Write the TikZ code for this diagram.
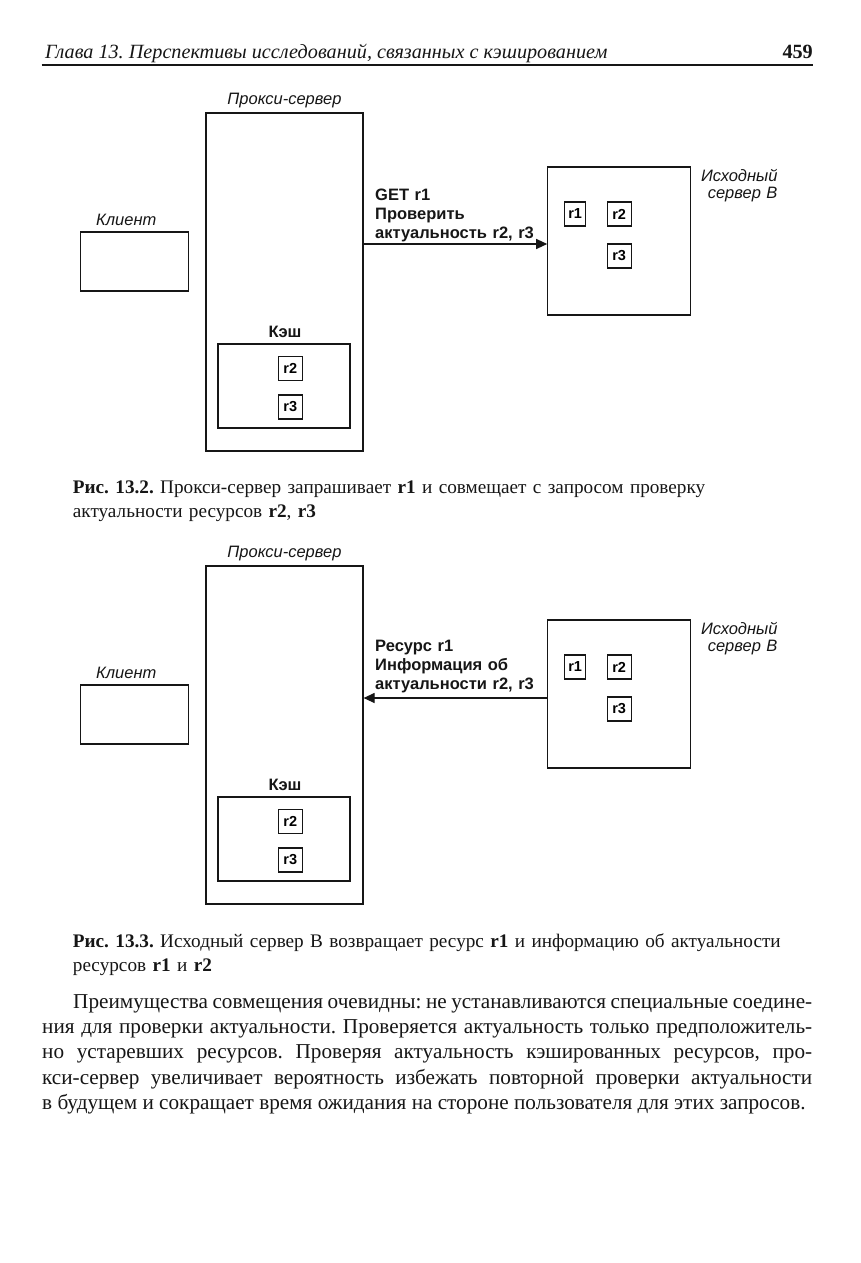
\documentclass[tikz,border=0pt]{standalone}
\usepackage{fontspec}
\setmainfont{Liberation Serif}
\setsansfont{Liberation Sans}
\usetikzlibrary{arrows.meta,positioning}
\definecolor{ink}{HTML}{161616}
\definecolor{paper}{HTML}{FFFFFF}
\frenchspacing
\tikzset{
  box/.style={draw=ink,line width=1.2pt,inner sep=0pt},
  resbox/.style={draw=ink,line width=1.1pt,minimum width=24pt,minimum height=24pt,
                 inner sep=0pt,font=\sffamily\bfseries\fontsize{14.5}{16}\selectfont},
  boxlabel/.style={inner sep=0pt,text=ink,font=\sffamily\itshape\fontsize{16.5}{16.5}\selectfont},
  cachelabel/.style={inner sep=0pt,text=ink,font=\sffamily\bfseries\fontsize{16.5}{17}\selectfont},
  msglabel/.style={inner sep=0pt,text=ink,text width=180pt,align=left,
                   font=\sffamily\bfseries\fontsize{16.5}{19}\selectfont},
  caption/.style={inner sep=0pt,text=ink,text width=740pt,align=left,
                  font=\fontsize{19.2}{24}\selectfont},
  bodytext/.style={inner sep=0pt,text=ink,text width=770pt,align=justify,
                   font=\fontsize{21.2}{25.2}\selectfont},
  flowarr/.style={-{Triangle[length=11pt,width=10pt]},line width=1.2pt,draw=ink}
}
\begin{document}
\begin{tikzpicture}[x=1pt,y=-1pt]
  \useasboundingbox[fill=paper] (0,0) rectangle (861,1263);

  % page header
  \node[inner sep=0pt,anchor=base west,text=ink,font=\itshape\fontsize{20.2}{24}\selectfont] (head) at (45,58.5)
    {Глава 13. Перспективы исследований, связанных с кэшированием};
  \node[inner sep=0pt,anchor=base east,text=ink,font=\bfseries\fontsize{20.2}{24}\selectfont] (pagenum) at (813,58.5) {459};
  \draw[ink,line width=1.4pt] (41.7,65) -- (813,65);

  % figure 13.2
  \node[box,minimum width=157pt,minimum height=338pt] (proxy1) at (284.5,282) {};
  \node[boxlabel,anchor=base] (proxy1lbl) at (284.5,104.7) {Прокси-сервер};
  \node[box,minimum width=108pt,minimum height=59pt] (client1) at (134.7,261.5) {};
  \node[boxlabel,anchor=base west] (client1lbl) at (96,225.5) {Клиент};
  \node[box,minimum width=132pt,minimum height=84pt] (cache1) at (284,386) {};
  \node[cachelabel,anchor=base] (cache1lbl) at (285,337) {Кэш};
  \node[resbox] (c1r2) at (290.3,368.5) {r2};
  \node[resbox] (c1r3) at (290.3,407) {r3};
  \node[box,minimum width=143pt,minimum height=148pt] (origin1) at (619.3,241) {};
  \node[boxlabel,text width=90pt,align=right,anchor=base east] (origin1lbl) at (777.7,181.5) {Исходный\\сервер B};
  \node[resbox,minimum width=21pt] (o1r1) at (575.2,214) {r1};
  \node[resbox] (o1r2) at (619.2,214) {r2};
  \node[resbox] (o1r3) at (619.2,256) {r3};
  \coordinate (req) at (0,244);
  \draw[flowarr] (proxy1.east |- req) -- (origin1.west |- req);
  \node[msglabel,anchor=base west] (msg1) at (375,200.5) {GET r1\\Проверить\\актуальность r2, r3};

  \node[caption,anchor=base west] (cap1) at (72.7,493.5)
    {\textbf{Рис. 13.2.} Прокси-сервер запрашивает \textbf{r1} и совмещает с запросом проверку\\
     актуальности ресурсов \textbf{r2}, \textbf{r3}};

  % figure 13.3
  \node[box,minimum width=157pt,minimum height=338pt] (proxy2) at (284.5,735) {};
  \node[boxlabel,anchor=base] (proxy2lbl) at (284.5,557.7) {Прокси-сервер};
  \node[box,minimum width=108pt,minimum height=59pt] (client2) at (134.7,714.5) {};
  \node[boxlabel,anchor=base west] (client2lbl) at (96,678.5) {Клиент};
  \node[box,minimum width=132pt,minimum height=84pt] (cache2) at (284,839) {};
  \node[cachelabel,anchor=base] (cache2lbl) at (285,790) {Кэш};
  \node[resbox] (c2r2) at (290.3,821.5) {r2};
  \node[resbox] (c2r3) at (290.3,860) {r3};
  \node[box,minimum width=143pt,minimum height=148pt] (origin2) at (619.3,694) {};
  \node[boxlabel,text width=90pt,align=right,anchor=base east] (origin2lbl) at (777.7,634.5) {Исходный\\сервер B};
  \node[resbox,minimum width=21pt] (o2r1) at (575.2,667) {r1};
  \node[resbox] (o2r2) at (619.2,667) {r2};
  \node[resbox] (o2r3) at (619.2,709) {r3};
  \coordinate (resp) at (0,698);
  \draw[flowarr] (origin2.west |- resp) -- (proxy2.east |- resp);
  \node[msglabel,anchor=base west] (msg2) at (375,651) {Ресурс r1\\Информация об\\актуальности r2, r3};

  \node[caption,anchor=base west] (cap2) at (72.7,947.5)
    {\textbf{Рис. 13.3.} Исходный сервер B возвращает ресурс \textbf{r1} и информацию об актуальности\\
     ресурсов \textbf{r1} и \textbf{r2}};

  % body text
  \node[bodytext,anchor=base west] (para) at (42,1008.5)
    {\tolerance=10000\hspace*{31pt}Преимущества совмещения очевидны: не устанавливаются специальные соедине-\linebreak
     ния для проверки актуальности. Проверяется актуальность только предположитель-\linebreak
     но устаревших ресурсов. Проверяя актуальность кэшированных ресурсов, про-\linebreak
     кси-сервер увеличивает вероятность избежать повторной проверки актуальности\linebreak
     в будущем и сокращает время ожидания на стороне пользователя для этих запросов.};
\end{tikzpicture}
\end{document}
